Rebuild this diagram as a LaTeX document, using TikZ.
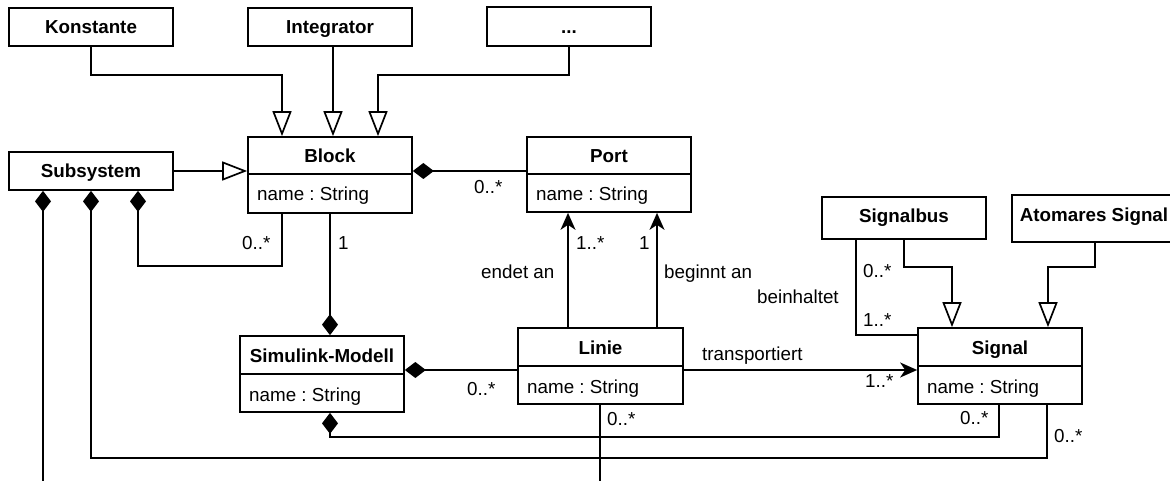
\documentclass[tikz,border=0pt]{standalone}
\usepackage{fontspec}
\setmainfont{Liberation Sans}
\frenchspacing
\usetikzlibrary{arrows.meta}
\tikzset{
  every node/.style={font=\fontsize{18.8}{22}\selectfont},
  box/.style={draw, line width=1.7pt, rectangle, inner sep=0pt, fill=white},
  titletext/.style={font=\fontsize{18.8}{22}\selectfont\bfseries, anchor=base, inner sep=0pt},
  attrtext/.style={anchor=base west, inner sep=0pt},
  lbl/.style={anchor=base west, inner sep=0pt},
  conn/.style={line width=1.7pt},
  gen/.style={conn, -{Triangle[open, length=25pt, width=19pt]}},
  comp/.style={conn, {Diamond[length=21pt, width=16pt]}-},
  nav/.style={conn, -{Stealth[length=17pt, width=15pt, inset=5pt]}},
}
\newcommand\UmlClass[8]{%
  \node[box, minimum width={(#4)-(#2)}, minimum height={(#5)-(#3)}] (#1) at ({((#2)+(#4))/2},{((#3)+(#5))/2}) {};
  \draw[conn] (#2,#6) -- (#4,#6);
  \node[titletext] (#1-t) at ({((#2)+(#4))/2},{(#3)+26}) {#7};
  \node[attrtext] (#1-a) at ({(#2)+9},{(#6)+27}) {#8};
}
\begin{document}
\begin{tikzpicture}[x=1pt,y=-1pt]
\useasboundingbox (0,0) rectangle (1170,481);

% simple boxes
\node[box, minimum width=164, minimum height=38] (konst) at (91,27) {};
\node[titletext] (konst-t) at (91,33.5) {Konstante};
\node[box, minimum width=164, minimum height=38] (integ) at (330,27) {};
\node[titletext] (integ-t) at (330,33.5) {Integrator};
\node[box, minimum width=164, minimum height=39] (dots) at (569,26.5) {};
\node[titletext] (dots-t) at (569,33.5) {...};
\node[box, minimum width=164, minimum height=38] (subsys) at (91,171) {};
\node[titletext] (subsys-t) at (91,177.5) {Subsystem};
\node[box, minimum width=164, minimum height=42] (sbus) at (904,218) {};
\node[titletext] (sbus-t) at (904,223) {Signalbus};
\node[box, minimum width=164, minimum height=47] (atom) at (1094,218.5) {};
\node[titletext] (atom-t) at (1094,222) {Atomares Signal};

% classes
\UmlClass{block}{248}{137}{412}{213}{174}{Block}{name : String}
\UmlClass{port}{527}{137}{691}{212}{174}{Port}{name : String}
\UmlClass{sm}{240}{336}{404}{412}{374}{Simulink-Modell}{name : String}
\UmlClass{linie}{518}{328}{683}{404}{366}{Linie}{name : String}
\UmlClass{signal}{918}{328}{1082}{404}{366}{Signal}{name : String}

\coordinate (subend) at (43,490);
\coordinate (linend) at (600,490);

% generalisations
\draw[gen] (konst.south) |- (282,75) -- (block.north -| 282,0);
\draw[gen] (integ.south -| 333,0) -- (block.north -| 333,0);
\draw[gen] (dots.south) |- (378,75) -- (block.north -| 378,0);
\draw[gen] (subsys.east) -- (block.west |- subsys.east);
\draw[gen] (sbus.south -| 904,0) |- (952,267) -- (signal.north -| 952,0);
\draw[gen] (atom.south -| 1095,0) |- (1048,267) -- (signal.north -| 1048,0);

% compositions
\draw[comp] (block.east |- 0,171) -- (port.west |- 0,171);
\draw[comp] (sm.north -| 330,0) -- (block.south -| 330,0);
\draw[comp] (subsys.south -| 138,0) |- (282,266) -- (block.south -| 282,0);
\draw[comp] (sm.east |- 0,370) -- (linie.west |- 0,370);
\draw[comp] (sm.south -| 330,0) |- (999,437) -- (signal.south -| 999,0);
\draw[comp] (subsys.south -| 91,0) |- (1047,458) -- (signal.south -| 1047,0);
\draw[comp] (subsys.south -| 43,0) -- (subend);

% associations
\draw[nav] (linie.north -| 568,0) -- (port.south -| 568,0);
\draw[nav] (linie.north -| 657,0) -- (port.south -| 657,0);
\draw[nav] (linie.east |- 0,370) -- (signal.west |- 0,370);
\draw[conn] (sbus.south -| 856,0) |- (signal.west |- 0,335);
\draw[conn] (linie.south -| 600,0) -- (linend);

% labels
\node[lbl] (l1) at (474,194) {0..*};
\node[lbl] (l2) at (576,250) {1..*};
\node[lbl] (l3) at (639,250) {1};
\node[lbl] (l4) at (481,278) {endet an};
\node[lbl] (l5) at (664,278) {beginnt an};
\node[lbl] (l6) at (757,303) {beinhaltet};
\node[lbl] (l7) at (863,277) {0..*};
\node[lbl] (l8) at (863,326) {1..*};
\node[lbl] (l9) at (338,250) {1};
\node[lbl] (l10) at (242,250) {0..*};
\node[lbl] (l11) at (467,395) {0..*};
\node[lbl] (l12) at (702,360) {transportiert};
\node[lbl] (l13) at (865,387) {1..*};
\node[lbl] (l14) at (960,424) {0..*};
\node[lbl] (l15) at (1054,442) {0..*};
\node[lbl] (l16) at (607,425) {0..*};
\end{tikzpicture}
\end{document}
